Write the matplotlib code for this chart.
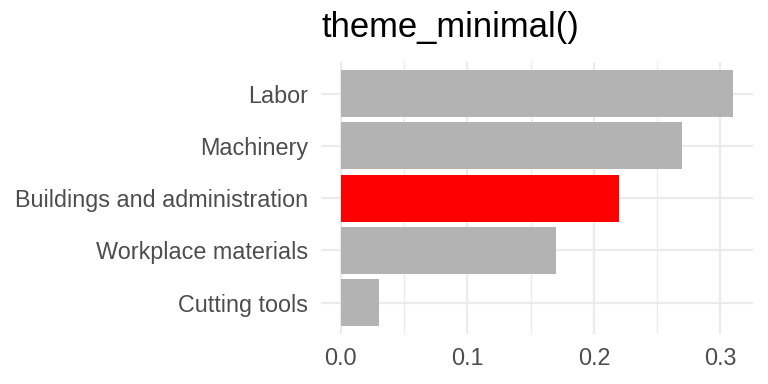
import matplotlib
matplotlib.use("Agg")
import matplotlib.pyplot as plt
from matplotlib.ticker import MultipleLocator

# data (top to bottom as drawn)
categories = ["Labor", "Machinery", "Buildings and administration",
              "Workplace materials", "Cutting tools"]
values = [0.31, 0.27, 0.22, 0.17, 0.03]
highlight = "Buildings and administration"

plt.rcParams['font.family'] = ['Liberation Sans', 'DejaVu Sans']

fig = plt.figure(figsize=(8, 4), dpi=96)
ax = fig.add_axes([321.3/768, 50/384, (752.7-321.3)/768, (334-62.3)/384])

n = len(categories)
ypos = list(range(n, 0, -1))
colors = ["#FF0000" if c == highlight else "#B3B3B3" for c in categories]
ax.barh(ypos, values, height=0.9, color=colors, zorder=3)

# ggplot-style expansion
xmax = max(values)
ax.set_xlim(-0.05*xmax, 1.05*xmax)
ax.set_ylim(0.4, n + 0.6)

ax.set_yticks(ypos)
ax.set_yticklabels(categories)
ax.xaxis.set_major_locator(MultipleLocator(0.1))
ax.xaxis.set_minor_locator(MultipleLocator(0.05))
ax.xaxis.set_major_formatter(plt.FuncFormatter(lambda v, p: "%.1f" % v))

ax.grid(True, which='major', color='#EBEBEB', linewidth=1.6, zorder=0)
ax.grid(True, which='minor', axis='x', color='#EBEBEB', linewidth=0.9, zorder=0)
ax.tick_params(which='both', length=0)
ax.tick_params(axis='y', labelsize=17.5, labelcolor='#4D4D4D', pad=10)
ax.tick_params(axis='x', labelsize=17.5, labelcolor='#4D4D4D', pad=10)
for s in ax.spines.values():
    s.set_visible(False)

fig.text(322/768, 1 - 37/384, "theme_minimal()", fontsize=26, color='black',
         ha='left', va='baseline')

fig.savefig("out.png", dpi=96, facecolor='white')
